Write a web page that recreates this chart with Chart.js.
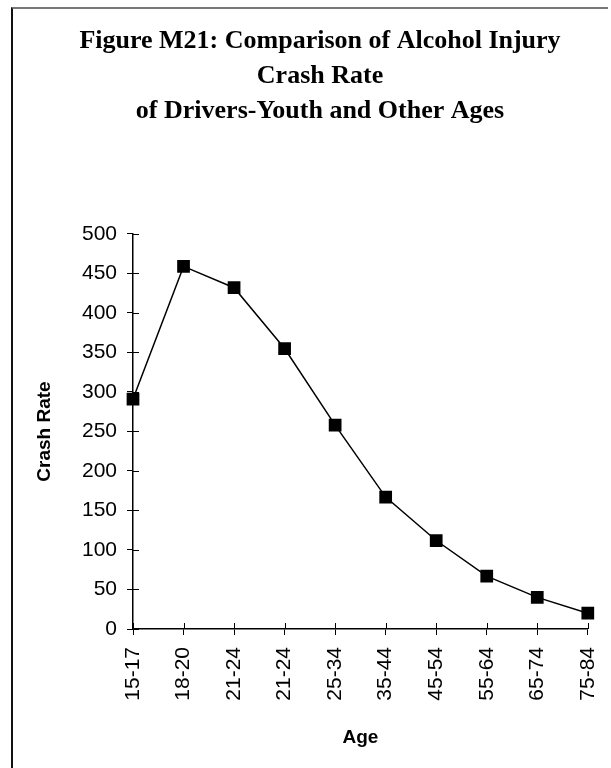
<!DOCTYPE html>
<html lang="en">
<head>
  <meta charset="UTF-8">
  <title>Figure M21</title>
  <script src="https://cdn.jsdelivr.net/npm/chart.js"></script>
  <style>
    * { margin: 0; padding: 0; box-sizing: border-box; }
    body { width: 611px; height: 768px; background: #fff; overflow: hidden; position: relative; }
    /* scanned page frame */
    .frame {
      position: absolute; left: 11px; top: 7px; width: 597px; height: 800px;
      border-left: 2px solid #111; border-top: 2px solid #777;
    }
    .chart-box { position: absolute; left: 14px; top: 0; width: 611px; height: 768px; }
  </style>
</head>
<body>
  <div class="frame"></div>
  <div class="chart-box"><canvas id="crashChart"></canvas></div>

  <script>
    // Data
    const ageGroups = ['15-17', '18-20', '21-24', '21-24', '25-34', '35-44', '45-54', '55-64', '65-74', '75-84'];
    const crashRate = [291, 459, 432, 355, 258, 167, 112, 67, 40, 20];
    const titleLines = ['Figure M21: Comparison of Alcohol Injury', 'Crash Rate', 'of Drivers-Youth and Other Ages'];

    // Ticks in the original cross the axis line, so draw the inner half too
    const innerTicks = {
      id: 'innerTicks',
      afterDraw(chart) {
        const { ctx, chartArea, scales } = chart;
        ctx.save();
        ctx.strokeStyle = '#000';
        ctx.lineWidth = 1;
        ctx.beginPath();
        scales.y.ticks.forEach((t, i) => {
          const y = Math.round(scales.y.getPixelForTick(i)) + 0.5;
          ctx.moveTo(chartArea.left, y);
          ctx.lineTo(chartArea.left + 6, y);
        });
        scales.x.ticks.forEach((t, i) => {
          const x = Math.round(scales.x.getPixelForTick(i)) + 0.5;
          ctx.moveTo(x, chartArea.bottom);
          ctx.lineTo(x, chartArea.bottom - 6);
        });
        ctx.stroke();
        ctx.restore();
      }
    };

    Chart.defaults.color = '#000';
    Chart.defaults.font.family = '"Liberation Sans", Arial, sans-serif';

    const ctx = document.getElementById('crashChart').getContext('2d');
    new Chart(ctx, {
      type: 'line',
      data: {
        labels: ageGroups,
        datasets: [{
          label: 'Crash Rate',
          data: crashRate,
          borderColor: '#000',
          borderWidth: 1.5,
          backgroundColor: '#000',
          pointStyle: 'rect',
          pointRadius: 9,
          pointBorderWidth: 0,
          tension: 0
        }]
      },
      options: {
        responsive: true,
        maintainAspectRatio: false,
        animation: false,
        // left/right padding kept balanced so the title sits where it does in the scan
        layout: { padding: { top: 0, left: 25, right: 24, bottom: 0 } },
        plugins: {
          legend: { display: false },
          tooltip: { enabled: false },
          title: {
            display: true,
            text: titleLines,
            color: '#000',
            font: { family: '"Liberation Serif", "Times New Roman", serif', size: 26, weight: 'bold', lineHeight: 1.346 },
            padding: { top: 24, bottom: 105 }
          }
        },
        scales: {
          x: {
            offset: false,
            border: { color: '#000', width: 1.5 },
            grid: { drawOnChartArea: false, color: '#000', tickLength: 6 },
            ticks: { autoSkip: false, minRotation: 90, maxRotation: 90, padding: 12, font: { size: 21 } },
            title: { display: true, text: 'Age', font: { size: 19, weight: 'bold' }, padding: { top: 0, bottom: 19 } },
            afterFit(scale) { scale.height = 139; }
          },
          y: {
            min: 0,
            max: 500,
            border: { color: '#000', width: 1.5 },
            grid: { drawOnChartArea: false, color: '#000', tickLength: 6 },
            ticks: { stepSize: 50, padding: 10, font: { size: 21 } },
            title: { display: true, text: 'Crash Rate', font: { size: 19, weight: 'bold', lineHeight: 0.63 }, padding: { top: 0, bottom: 0 } },
            afterFit(scale) { scale.width = 94; }
          }
        }
      },
      plugins: [innerTicks]
    });
  </script>
</body>
</html>
